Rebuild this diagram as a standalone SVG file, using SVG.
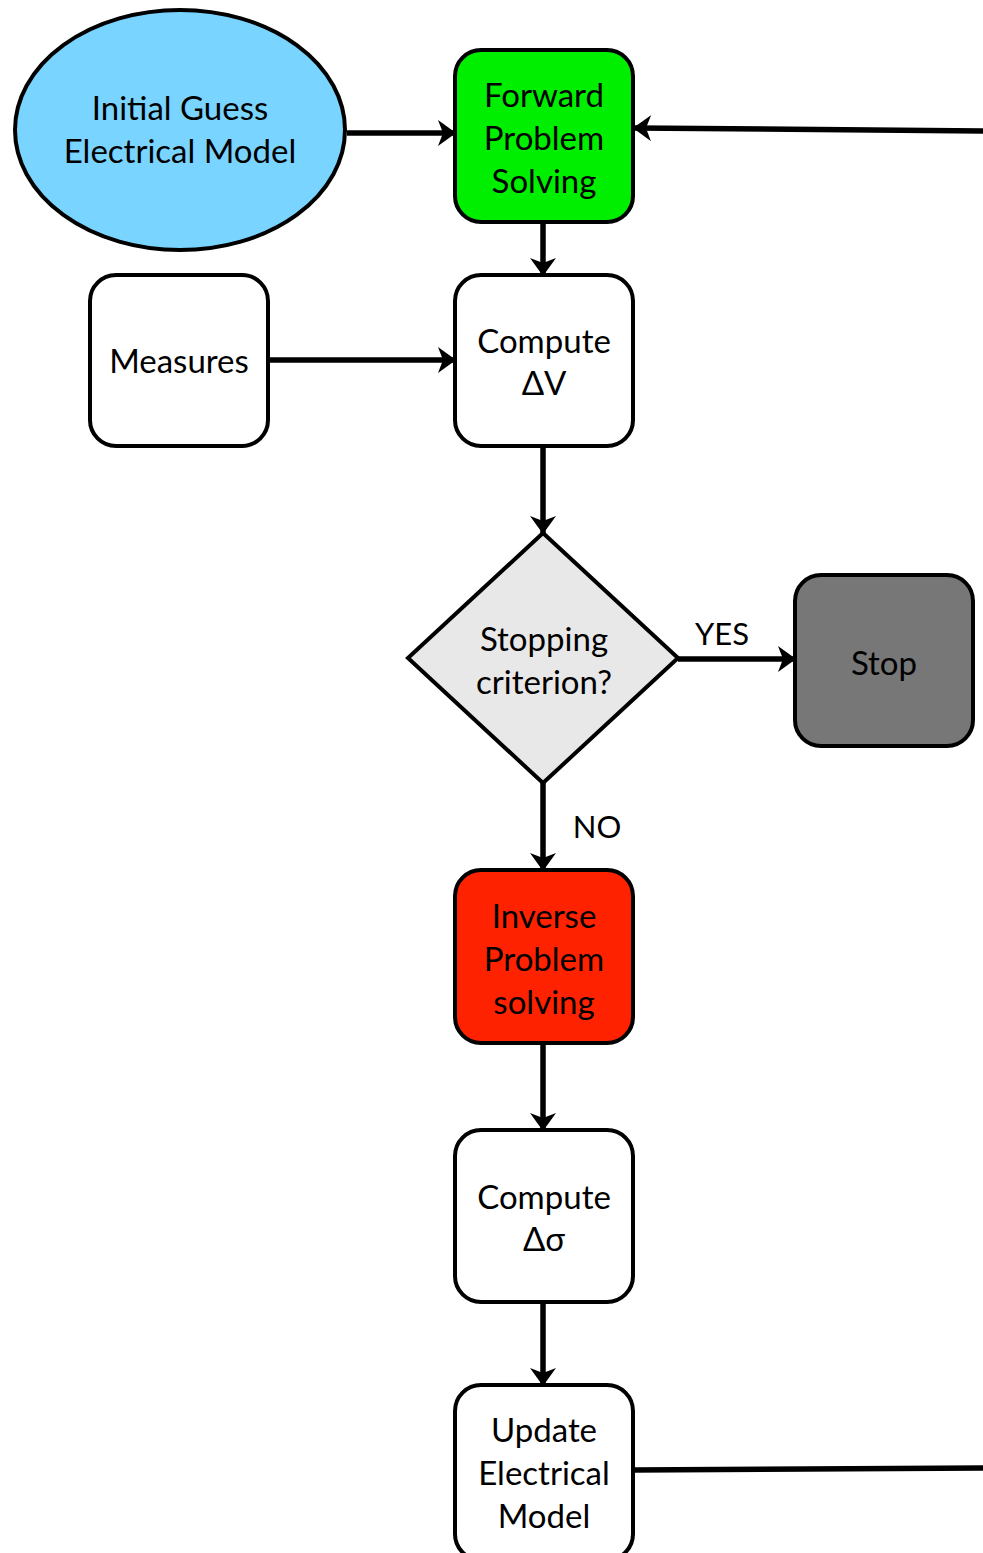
<svg xmlns="http://www.w3.org/2000/svg" width="983" height="1553" viewBox="0 0 983 1553">
<style>
.n{stroke:#000;stroke-width:4}
.t{font-family:Lato,"Open Sans",sans-serif;font-size:33px;fill:#000;text-anchor:middle}
.c{fill:none;stroke:#000;stroke-width:5.5}
</style>
<defs>
<marker id="ah" viewBox="0 0 18 26" refX="17" refY="13" markerWidth="18" markerHeight="26" markerUnits="userSpaceOnUse" orient="auto">
<path d="M0,0 L18,13 L0,26 L5,13 Z" fill="#000"/>
</marker>
</defs>
<rect width="983" height="1553" fill="#fff"/>
<g id="connectors">
<line class="c" x1="347" y1="133" x2="455" y2="133" marker-end="url(#ah)"/>
<line class="c" x1="983" y1="131" x2="634" y2="128" marker-end="url(#ah)"/>
<line class="c" x1="543" y1="222" x2="543" y2="275" marker-end="url(#ah)"/>
<line class="c" x1="268" y1="360" x2="455" y2="360" marker-end="url(#ah)"/>
<line class="c" x1="543" y1="446" x2="543" y2="533" marker-end="url(#ah)"/>
<line class="c" x1="678" y1="659" x2="795" y2="659" marker-end="url(#ah)"/>
<line class="c" x1="543" y1="783" x2="543" y2="870" marker-end="url(#ah)"/>
<line class="c" x1="543" y1="1043" x2="543" y2="1130" marker-end="url(#ah)"/>
<line class="c" x1="543" y1="1302" x2="543" y2="1385" marker-end="url(#ah)"/>
<line class="c" x1="633" y1="1470" x2="983" y2="1468"/>
<text class="t" x="722" y="645" style="font-size:31px">YES</text>
<text class="t" x="597" y="838" style="font-size:31px">NO</text>
</g>
<g id="initial">
<ellipse class="n" cx="180" cy="130" rx="165" ry="120" fill="#79D4FF"/>
<text class="t" x="180" y="120">Initial Guess</text>
<text class="t" x="180" y="163">Electrical Model</text>
</g>
<g id="forward">
<rect class="n" x="455" y="50" width="178" height="172" rx="26" fill="#00EE00"/>
<text class="t" x="544" y="107">Forward</text>
<text class="t" x="544" y="150">Problem</text>
<text class="t" x="544" y="193">Solving</text>
</g>
<g id="measures">
<rect class="n" x="90" y="275" width="178" height="171" rx="26" fill="#fff"/>
<text class="t" x="179" y="373">Measures</text>
</g>
<g id="computeV">
<rect class="n" x="455" y="275" width="178" height="171" rx="26" fill="#fff"/>
<text class="t" x="544" y="353">Compute</text>
<text class="t" x="544" y="395">ΔV</text>
</g>
<g id="decision">
<polygon class="n" points="543,533 678,658 543,783 408,658" fill="#E8E8E8"/>
<text class="t" x="544" y="651">Stopping</text>
<text class="t" x="544" y="694">criterion?</text>
</g>
<g id="stop">
<rect class="n" x="795" y="575" width="178" height="171" rx="26" fill="#777"/>
<text class="t" x="884" y="675">Stop</text>
</g>
<g id="inverse">
<rect class="n" x="455" y="870" width="178" height="173" rx="26" fill="#FF2200"/>
<text class="t" x="544" y="928">Inverse</text>
<text class="t" x="544" y="971">Problem</text>
<text class="t" x="544" y="1014">solving</text>
</g>
<g id="computeS">
<rect class="n" x="455" y="1130" width="178" height="172" rx="26" fill="#fff"/>
<text class="t" x="544" y="1209">Compute</text>
<text class="t" x="544" y="1251">Δσ</text>
</g>
<g id="update">
<rect class="n" x="455" y="1385" width="178" height="175" rx="26" fill="#fff"/>
<text class="t" x="544" y="1442">Update</text>
<text class="t" x="544" y="1485">Electrical</text>
<text class="t" x="544" y="1528">Model</text>
</g>
</svg>
